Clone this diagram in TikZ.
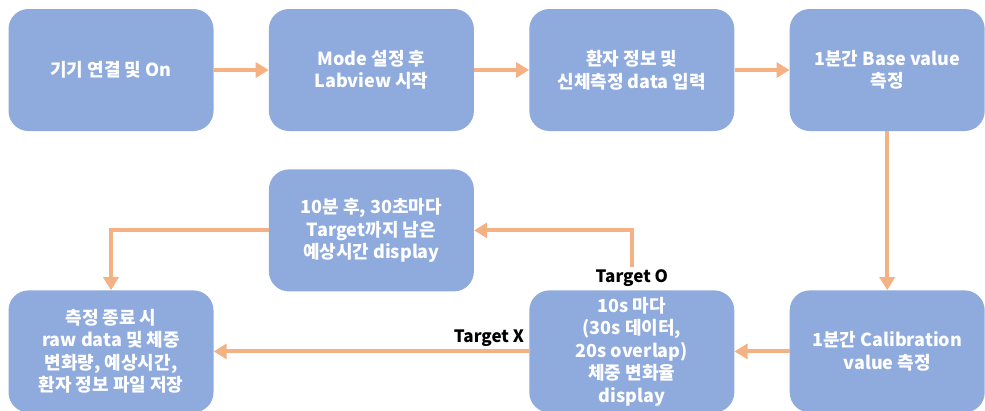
\documentclass[tikz,border=0pt]{standalone}
\usepackage{fontspec}
\setmainfont{Noto Sans CJK KR}
\usetikzlibrary{positioning,arrows.meta}

\definecolor{boxblue}{HTML}{8FAADC}
\definecolor{floworange}{HTML}{F4B183}

\tikzset{
    stepbox/.style={fill=boxblue, rounded corners=20pt, minimum width=205pt,
        minimum height=122pt, inner sep=2pt, align=center, text=white,
        font=\bfseries\fontsize{18}{22.5}\selectfont},
    flow/.style={draw=floworange, line width=4pt,
        -{Triangle[length=13pt, width=15pt]}},
    tag/.style={font=\bfseries\fontsize{17}{18}\selectfont, inner sep=3pt}
}

\begin{document}
\begin{tikzpicture}[x=1pt, y=-1pt]

    % Dimensions
    \def\boxGap{55pt}      % Horizontal gap between boxes
    \def\rowGap{159pt}     % Gap between top and bottom rows

    \useasboundingbox (0,0) rectangle (985,410);

    % Top row
    \node[stepbox] (connect) at (111,70) {기기 연결 및 On};
    \node[stepbox, right=\boxGap of connect] (mode) {Mode 설정 후\\Labview 시작};
    \node[stepbox, right=\boxGap of mode] (patient) {환자 정보 및\\신체측정 data 입력};
    \node[stepbox, minimum width=195pt, right=\boxGap of patient] (base) {1분간 Base value\\측정};

    % Bottom row
    \node[stepbox, minimum width=195pt, below=\rowGap of base] (calib) {1분간 Calibration\\value 측정};
    \node[stepbox, below=\rowGap of patient] (window) {10s 마다\\(30s 데이터,\\20s overlap)\\체중 변화율\\display};
    \node[stepbox, below=\rowGap of connect] (save) {측정 종료 시\\raw data 및 체중\\변화량, 예상시간,\\환자 정보 파일 저장};

    % Middle box
    \node[stepbox, below=38pt of mode] (remain) {10분 후, 30초마다\\Target까지 남은\\예상시간 display};

    % Branch label
    \node[tag, above=0pt of window] (targetO) {Target O};

    % Draw the arrows
    \draw[flow] (connect) -- (mode);
    \draw[flow] (mode) -- (patient);
    \draw[flow] (patient) -- (base);
    \draw[flow] (base) -- (calib);
    \draw[flow] (calib) -- (window);
    \draw[flow] (window) -- node[tag, above left, pos=0] {Target X} (save);
    \draw[flow] (targetO.north) |- (remain.east);
    \draw[flow] (remain.west) -| (save);

\end{tikzpicture}
\end{document}
